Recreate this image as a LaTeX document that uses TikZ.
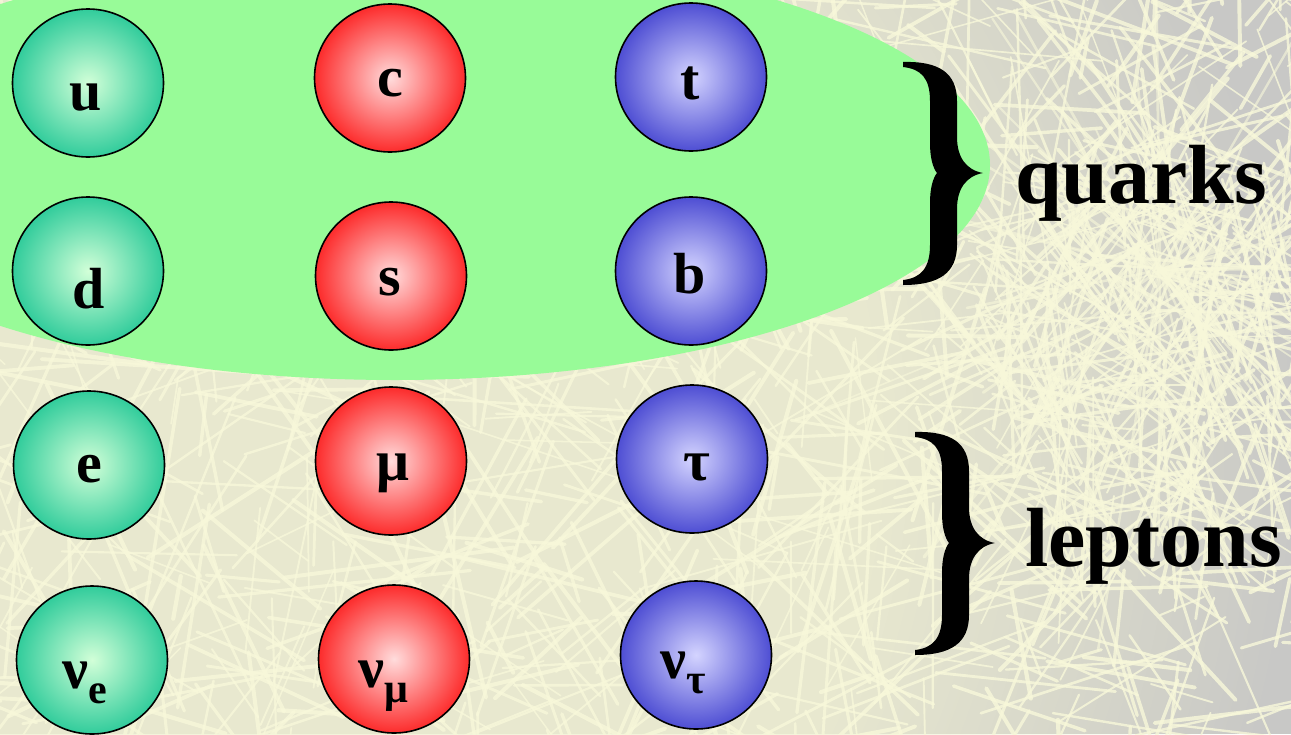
\documentclass[tikz,border=0pt]{standalone}
\usepackage{fontspec}
\setmainfont{Liberation Serif}
\usetikzlibrary{shapes.geometric,fadings}

\definecolor{bggrey}{RGB}{200,200,198}
\definecolor{creamcol}{RGB}{240,240,210}
\definecolor{trackcol}{RGB}{248,248,218}
\definecolor{blobgreen}{RGB}{152,251,152}
\definecolor{gIn}{RGB}{210,255,216}
\definecolor{gOut}{RGB}{30,198,148}
\definecolor{rIn}{RGB}{255,220,220}
\definecolor{rOut}{RGB}{252,22,22}
\definecolor{bIn}{RGB}{212,212,255}
\definecolor{bOut}{RGB}{62,62,206}

\pgfdeclareradialshading{ballgreen}{\pgfpoint{0bp}{0bp}}{color(0bp)=(gIn); color(28bp)=(gOut); color(50bp)=(gOut)}
\pgfdeclareradialshading{ballred}{\pgfpoint{0bp}{0bp}}{color(0bp)=(rIn); color(28bp)=(rOut); color(50bp)=(rOut)}
\pgfdeclareradialshading{ballblue}{\pgfpoint{0bp}{0bp}}{color(0bp)=(bIn); color(28bp)=(bOut); color(50bp)=(bOut)}

% pale wash that fades out towards the upper and lower right
\pgfdeclareradialshading{washshade}{\pgfpoint{0bp}{0bp}}{color(0bp)=(white); color(15bp)=(white); color(25bp)=(black); color(50bp)=(black)}
\pgfdeclarefading{washfade}{\pgfuseshading{washshade}}

\newcommand{\subtxt}[1]{\raisebox{-15pt}{\fontsize{42}{42}\selectfont #1}}

\tikzset{
  ball/.style={ellipse, minimum width=151pt, minimum height=148pt, inner sep=0pt,
    draw=black, line width=1.6pt, shading=#1},
  lbl/.style={anchor=base, inner sep=0pt, font=\fontsize{58}{58}\selectfont\bfseries},
  lblw/.style={anchor=base west, inner sep=0pt, font=\fontsize{58}{58}\selectfont\bfseries},
  family/.style={anchor=base west, inner sep=0pt, font=\fontsize{84}{84}\selectfont\bfseries},
  track/.style={draw=trackcol, line cap=round, opacity=0.8},
}

% curly brace, drawn as a filled outline; tip of the arms at (0,+-111), point at (80,0)
\newcommand{\bigbrace}[1]{%
  \fill[black, shift={#1}]
    (0,-111) .. controls (36,-112) and (54,-100) .. (54,-72)
    -- (54,-36) .. controls (54,-16) and (63,-3) .. (80,0)
    .. controls (63,3) and (54,16) .. (54,36)
    -- (54,72) .. controls (54,100) and (36,112) .. (0,112)
    -- (0,107) .. controls (18,105) and (27,95) .. (27,72)
    -- (27,30) .. controls (27,15) and (30,5) .. (34,0)
    .. controls (30,-5) and (27,-15) .. (27,-30)
    -- (27,-72) .. controls (27,-95) and (18,-104) .. (0,-106) -- cycle;}

\begin{document}
\begin{tikzpicture}[x=1pt, y=-1pt]
\useasboundingbox (0,0) rectangle (1291,734);
\clip (0,0) rectangle (1291,734);

% background: grey plate, paler towards the lower left, crossed by tracks
\fill[bggrey] (0,0) rectangle (1291,734);
\fill[creamcol, opacity=0.8, path fading=washfade, fit fading=true]
  (-800,-600) rectangle (1300,1500);
\pgfmathsetseed{17}
\foreach \i in {1,...,1100}{
  \pgfmathsetmacro\xa{rnd*1350-30}
  \pgfmathsetmacro\ya{rnd*780-20}
  \pgfmathsetmacro\ang{rnd*360}
  \pgfmathsetmacro\len{40+rnd*220}
  \pgfmathsetmacro\wd{1.4+rnd*2.8}
  \draw[track, line width=\wd pt] (\xa,\ya) -- ++(\ang:\len);
}
% denser tangle of tracks on the right
\foreach \i in {1,...,260}{
  \pgfmathsetmacro\xa{960+rnd*340}
  \pgfmathsetmacro\ya{180+rnd*300}
  \pgfmathsetmacro\ang{rnd*360}
  \pgfmathsetmacro\len{40+rnd*200}
  \pgfmathsetmacro\wd{1.4+rnd*2.4}
  \draw[track, line width=\wd pt] (\xa,\ya) -- ++(\ang:\len);
}
% tracks leaving the main vertex
\foreach \k in {1,...,45}{
  \pgfmathsetmacro\ang{rnd*360}
  \pgfmathsetmacro\len{100+rnd*300}
  \pgfmathsetmacro\wd{1.4+rnd*2}
  \draw[track, opacity=0.6, line width=\wd pt] (1160,270) -- ++(\ang:\len);
}

% quark region
\fill[blobgreen] (395,165) ellipse [x radius=595, y radius=215];

% particles
\node[ball=ballgreen] (u)   at (88,83)   {};
\node[ball=ballred]   (c)   at (390,78)  {};
\node[ball=ballblue]  (t)   at (691,77)  {};
\node[ball=ballgreen] (d)   at (88,271)  {};
\node[ball=ballred]   (s)   at (391,276) {};
\node[ball=ballblue]  (b)   at (691,271) {};
\node[ball=ballgreen] (e)   at (89,465)  {};
\node[ball=ballred]   (mu)  at (391,461) {};
\node[ball=ballblue]  (tau) at (692,459) {};
\node[ball=ballgreen] (ne)  at (92,660)  {};
\node[ball=ballred]   (nm)  at (394,659) {};
\node[ball=ballblue]  (nt)  at (696,655) {};

\node[lbl] (u-l)   at (86,110)  {u};
\node[lbl] (c-l)   at (390,96)  {c};
\node[lbl] (t-l)   at (690,99)  {t};
\node[lbl] (d-l)   at (89,308)  {d};
\node[lbl] (s-l)   at (390,295) {s};
\node[lbl] (b-l)   at (690,293) {b};
\node[lbl] (e-l)   at (89,482)  {e};
\node[lbl] (mu-l)  at (393,480) {μ};
\node[lbl] (tau-l) at (697,480) {τ};
\node[lblw] (ne-l) at (62,688)  {ν\subtxt{e}};
\node[lblw] (nm-l) at (358,687) {ν\subtxt{μ}};
\node[lblw] (nt-l) at (660,678) {ν\subtxt{τ}};

% family braces and names
\bigbrace{(903,173)}
\bigbrace{(915,543)}
\node[family] (quarks)  at (1015,203) {quarks};
\node[family] (leptons) at (1025,566) {leptons};
\end{tikzpicture}
\end{document}
